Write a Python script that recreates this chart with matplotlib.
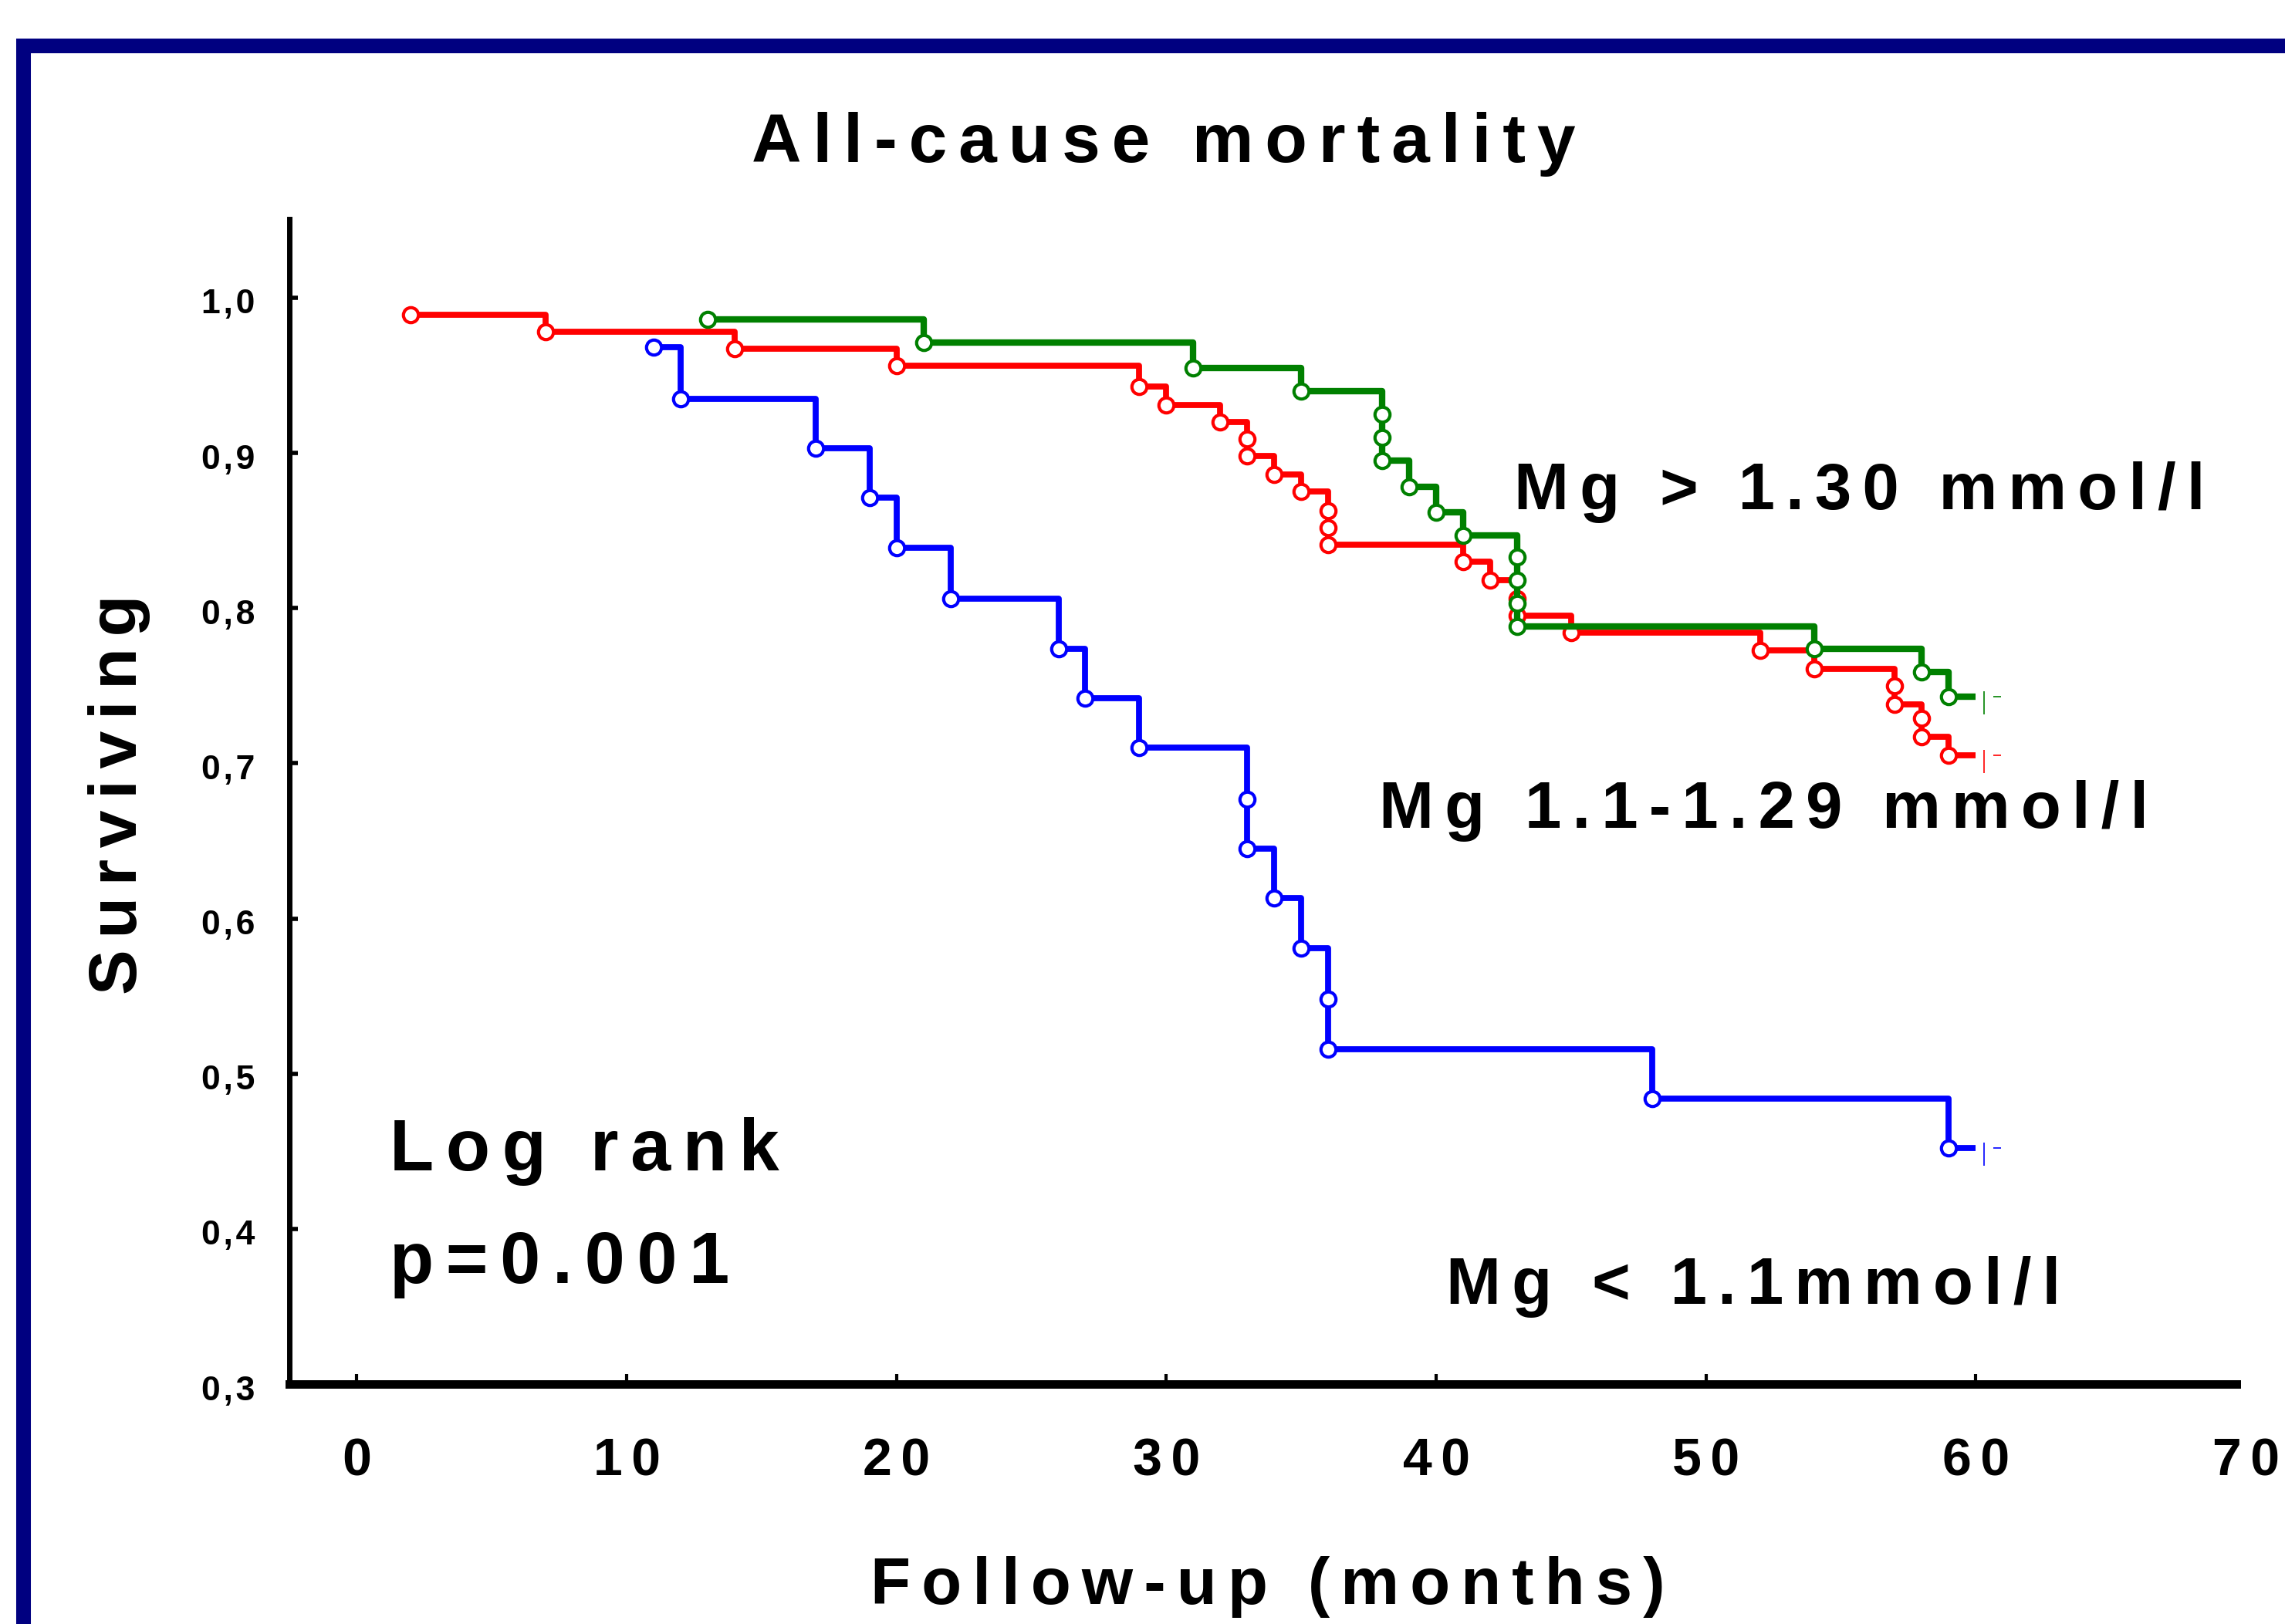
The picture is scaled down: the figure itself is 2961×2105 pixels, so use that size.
import matplotlib
matplotlib.use('Agg')
import matplotlib.pyplot as plt
from matplotlib.patches import Rectangle
from matplotlib.transforms import ScaledTranslation

# Kaplan-Meier steps:
# event times (months) and the survival fraction just after each event
LOW_TIMES = [11, 12, 17, 19, 20, 22, 26, 27, 29, 33, 33, 34, 35, 36, 36, 48, 59]
LOW_SURV = [0.968, 0.935, 0.903, 0.871, 0.839, 0.806, 0.774, 0.742, 0.710,
            0.677, 0.645, 0.613, 0.581, 0.548, 0.516, 0.484, 0.452]

MID_TIMES = [2, 7, 14, 20, 29, 30, 32, 33, 33, 34, 35, 36, 36, 36, 41, 42, 43,
             43, 45, 52, 54, 57, 57, 58, 58, 59]
MID_SURV = [0.989, 0.978, 0.967, 0.956, 0.943, 0.931, 0.920, 0.909, 0.898,
            0.886, 0.875, 0.863, 0.852, 0.841, 0.830, 0.818, 0.806, 0.795,
            0.784, 0.773, 0.761, 0.750, 0.738, 0.729, 0.717, 0.705]

HIGH_TIMES = [13, 21, 31, 35, 38, 38, 38, 39, 40, 41, 43, 43, 43, 43, 54, 58, 59]
HIGH_SURV = [0.986, 0.971, 0.955, 0.940, 0.925, 0.910, 0.895, 0.878, 0.862,
             0.847, 0.833, 0.818, 0.803, 0.788, 0.774, 0.759, 0.743]

CENSOR_TIME = 60

X_TICKS = [0, 10, 20, 30, 40, 50, 60, 70]
Y_TICKS = [0.3, 0.4, 0.5, 0.6, 0.7, 0.8, 0.9, 1.0]
Y_TICK_LABELS = ['0,3', '0,4', '0,5', '0,6', '0,7', '0,8', '0,9', '1,0']

SIX = '\u2006'
HAIR = '\u200a'


def spaced(text, gap=SIX):
    # the original artwork has very loose letter spacing
    return gap.join(text)


plt.rcParams['font.family'] = ['Liberation Sans', 'DejaVu Sans']
plt.rcParams['font.weight'] = 'bold'

fig = plt.figure(figsize=(29.61, 21.05), dpi=100)
fig.patch.set_facecolor('white')

# navy frame, only its top and left edges fall inside the picture
fig.patches.append(Rectangle((0.0103, -0.6), 2.0, 1.5722, transform=fig.transFigure,
                             fill=False, edgecolor='#000080', linewidth=13.7))

ax = fig.add_axes([0.12665, 0.14774, 0.85613, 0.71734])
ax.set_xlim(-2.5, 70)
ax.set_ylim(0.3, 1.0507)

for side in ['top', 'right']:
    ax.spines[side].set_visible(False)
ax.spines['left'].set_linewidth(5.0)
ax.spines['bottom'].set_linewidth(7.9)
ax.spines['bottom'].set_bounds(-2.5, 69.66)


def km_curve(times, surv, color, lw=5.6):
    xs = list(times) + [CENSOR_TIME]
    ys = list(surv) + [surv[-1]]
    ax.step(xs, ys, where='post', color=color, lw=lw, solid_capstyle='butt')
    ax.plot(times, surv, 'o', ms=14, mfc='white', mec=color, mew=3.0)
    # little censoring tick at the end of follow-up
    ax.plot([CENSOR_TIME + 0.3], [surv[-1] - 0.004], marker='|', ms=22, mew=1.2, color=color)
    ax.plot([CENSOR_TIME + 0.8], [surv[-1]], marker='_', ms=7, mew=1.2, color=color)


km_curve(MID_TIMES, MID_SURV, '#ff0000')
km_curve(LOW_TIMES, LOW_SURV, '#0000ff')
km_curve(HIGH_TIMES, HIGH_SURV, '#008000', lw=6.0)

ax.set_xticks(X_TICKS)
ax.set_xticklabels([spaced(str(t)) for t in X_TICKS], fontsize=49, fontweight='bold')
ax.set_yticks(Y_TICKS)
ax.set_yticklabels([spaced(t, HAIR) for t in Y_TICK_LABELS], fontsize=32,
                   fontweight='bold', va='center')
ax.tick_params(axis='x', direction='in', length=9.4, width=3.0, pad=49.5)
ax.tick_params(axis='y', direction='in', length=8.0, width=4.0, pad=32)
ax.xaxis.get_major_ticks()[-1].tick1line.set_visible(False)

# the y tick numbers sit a little below their ticks in the original
nudge = ScaledTranslation(0, -0.09, fig.dpi_scale_trans)
for tick in ax.yaxis.get_major_ticks():
    tick.label1.set_transform(tick.label1.get_transform() + nudge)

ax.set_xlabel(spaced('Follow-up (months)'), fontsize=61.3, fontweight='bold', va='baseline')
ax.xaxis.set_label_coords(0.5, -0.1887)
ax.set_ylabel(spaced('Surviving'), fontsize=63.4, fontweight='bold', va='baseline')
ax.yaxis.set_label_coords(-0.0781, 0.506)

fig.text(0.5093, 0.9002, spaced('All-cause mortality'), fontsize=64.4,
         fontweight='bold', ha='center', va='baseline')

ax.text(42.89, 0.8638, spaced('Mg > 1.30 mmol/l'), fontsize=61.3, fontweight='bold',
        ha='left', va='baseline')
ax.text(37.89, 0.6586, spaced('Mg 1.1-1.29 mmol/l'), fontsize=61.3, fontweight='bold',
        ha='left', va='baseline')
ax.text(40.37, 0.3519, spaced('Mg < 1.1mmol/l'), fontsize=61.3, fontweight='bold',
        ha='left', va='baseline')
ax.text(1.22, 0.4379, spaced('Log rank'), fontsize=67.4, fontweight='bold',
        ha='left', va='baseline')
ax.text(1.22, 0.3653, spaced('p=0.001'), fontsize=67.4, fontweight='bold',
        ha='left', va='baseline')

fig.savefig('out.png', dpi=100, facecolor='white')
